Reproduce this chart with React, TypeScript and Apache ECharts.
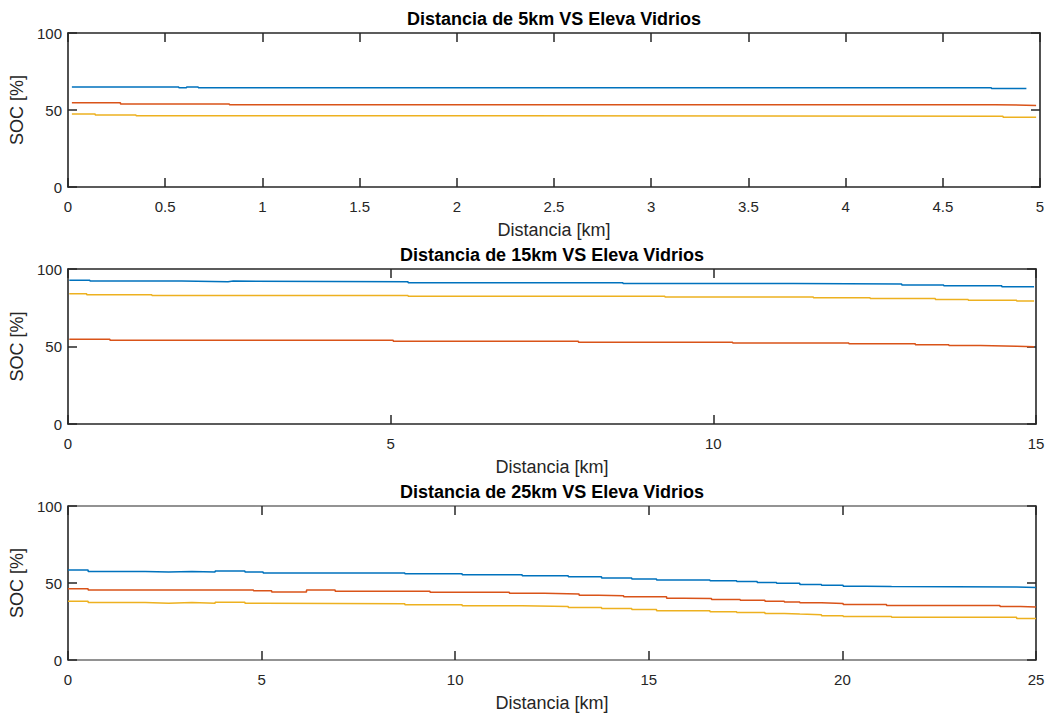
import React, { useEffect, useRef } from "react";
import * as echarts from "echarts";

// ---------- data ----------
const TITLES = [
  "Distancia de 5km VS Eleva Vidrios",
  "Distancia de 15km VS Eleva Vidrios",
  "Distancia de 25km VS Eleva Vidrios",
];
const X_MAX = [5, 15, 25];
const X_INTERVAL = [0.5, 5, 5];
const Y_TICKS = [0, 50, 100];
const X_NAME = "Distancia [km]";
const Y_NAME = "SOC [%]";

// [distance km, SOC %] breakpoints (step lines)
const blue5: [number, number][] = [[0.02, 65.0], [0.57, 64.5], [0.61, 65.0], [0.67, 64.5], [4.75, 64.0], [4.93, 64.0]];
const orange5: [number, number][] = [[0.02, 54.7], [0.27, 53.9], [0.83, 53.4], [4.77, 53.0], [4.98, 53.0]];
const yellow5: [number, number][] = [[0.02, 47.4], [0.14, 46.8], [0.35, 46.3], [1.57, 45.9], [4.81, 45.3], [4.98, 45.3]];

const blue15: [number, number][] = [[0.02, 92.8], [0.34, 92.2], [1.76, 91.8], [2.48, 92.2], [2.56, 91.8], [5.27, 91.2], [8.6, 90.7], [11.24, 90.3], [12.92, 89.7], [13.57, 89.2], [14.47, 88.5], [14.97, 88.5]];
const orange15: [number, number][] = [[0.02, 54.7], [0.65, 54.0], [5.04, 53.4], [7.91, 52.8], [10.3, 52.2], [12.1, 51.7], [13.13, 51.1], [13.65, 50.6], [14.14, 50.2], [14.7, 49.8], [14.97, 49.8]];
const yellow15: [number, number][] = [[0.02, 84.0], [0.29, 83.4], [1.3, 82.9], [5.27, 82.4], [9.25, 81.9], [11.55, 81.4], [12.43, 80.9], [13.44, 80.4], [13.95, 79.9], [14.7, 79.3], [14.97, 79.3]];

const blue25: [number, number][] = [[0, 58.4], [0.52, 57.5], [1.99, 57.1], [2.6, 57.5], [3.2, 57.1], [3.8, 57.8], [4.57, 57.1], [5.04, 56.5], [8.7, 56.0], [10.18, 55.4], [11.73, 54.7], [12.92, 54.1], [13.78, 53.3], [14.56, 52.6], [15.2, 52.0], [16.58, 51.5], [17.27, 50.9], [17.8, 50.4], [18.3, 49.8], [18.9, 49.0], [19.46, 48.5], [20.02, 47.9], [20.6, 47.7], [21.27, 47.4], [24.5, 47.0], [25, 47.0]];
const orange25: [number, number][] = [[0, 46.2], [0.52, 45.5], [4.79, 44.9], [5.26, 44.2], [6.16, 45.5], [6.9, 44.6], [9.35, 44.0], [11.4, 43.3], [12.3, 42.9], [13.2, 42.0], [13.7, 41.7], [14.35, 41.0], [15.46, 40.1], [15.9, 39.9], [16.62, 39.3], [17.36, 38.8], [18.0, 38.2], [18.5, 37.6], [18.9, 37.1], [19.46, 36.7], [20.02, 36.1], [21.14, 35.4], [24.07, 34.8], [24.6, 34.4], [25, 34.4]];
const yellow25: [number, number][] = [[0, 38.2], [0.52, 37.3], [1.99, 36.9], [2.6, 37.3], [3.2, 36.9], [3.8, 37.5], [4.57, 36.9], [5.04, 36.5], [8.7, 35.9], [10.18, 35.2], [11.73, 34.8], [12.92, 34.1], [13.78, 33.5], [14.56, 32.8], [15.2, 32.0], [16.58, 31.4], [17.27, 30.8], [18.0, 30.2], [18.5, 29.8], [18.9, 29.4], [19.46, 28.8], [20.02, 28.3], [21.27, 27.7], [24.5, 27.0], [25, 27.0]];

const SERIES_DATA = [
  [blue5, orange5, yellow5],
  [blue15, orange15, yellow15],
  [blue25, orange25, yellow25],
];
const SERIES_NAMES = ["Serie 1", "Serie 2", "Serie 3"];
const COLORS = ["#0072BD", "#D95319", "#EDB120"];

// ---------- layout ----------
const GRIDS = [
  { left: 68, top: 33, width: 972, height: 154 },
  { left: 68, top: 269, width: 968, height: 155 },
  { left: 68, top: 506, width: 968, height: 155 },
];
const FONT = "'Liberation Sans', Arial, Helvetica, sans-serif";
const AX = "#262626";

export default function App() {
  const ref = useRef<HTMLDivElement>(null);
  useEffect(() => {
    if (!ref.current) return;
    const chart = echarts.init(ref.current, undefined, { renderer: "svg" });
    const xAxis: any[] = [];
    const yAxis: any[] = [];
    const series: any[] = [];
    const title: any[] = [];
    GRIDS.forEach((g, i) => {
      const hColor = i === 2 ? "#6f6f6f" : AX;
      title.push({
        text: TITLES[i],
        left: g.left + g.width / 2,
        top: g.top - 23,
        padding: 0,
        textAlign: "center",
        textStyle: { fontFamily: FONT, fontSize: 18, fontWeight: "bold", color: "#000" },
      });
      const xBase = {
        type: "value",
        gridIndex: i,
        min: 0,
        max: X_MAX[i],
        interval: X_INTERVAL[i],
        splitLine: { show: false },
        axisTick: { inside: true, length: 9, lineStyle: { color: AX, width: 1.5 } },
      };
      xAxis.push({
        ...xBase,
        position: "bottom",
        axisLine: { show: true, onZero: false, lineStyle: { color: hColor, width: 1.6 } },
        axisLabel: { show: true, margin: 12, fontSize: 15, fontFamily: FONT, color: AX },
        name: X_NAME,
        nameLocation: "middle",
        nameGap: 34,
        nameTextStyle: { fontSize: 18, fontFamily: FONT, color: AX },
      });
      xAxis.push({
        ...xBase,
        position: "top",
        axisLine: { show: true, onZero: false, lineStyle: { color: hColor, width: 1.6 } },
        axisLabel: { show: false },
      });
      const yBase = {
        type: "value",
        gridIndex: i,
        min: Y_TICKS[0],
        max: Y_TICKS[Y_TICKS.length - 1],
        interval: Y_TICKS[1] - Y_TICKS[0],
        splitLine: { show: false },
        axisTick: { inside: true, length: 9, lineStyle: { color: AX, width: 1.5 } },
        axisLine: { show: true, onZero: false, lineStyle: { color: AX, width: 1.6 } },
      };
      yAxis.push({
        ...yBase,
        position: "left",
        axisLabel: { show: true, margin: 6, fontSize: 15, fontFamily: FONT, color: AX },
        name: Y_NAME,
        nameLocation: "middle",
        nameGap: 32,
        nameTextStyle: { fontSize: 18, fontFamily: FONT, color: AX },
      });
      yAxis.push({
        ...yBase,
        position: "right",
        axisLabel: { show: false },
      });
      SERIES_DATA[i].forEach((d, k) => {
        series.push({
          type: "line",
          name: SERIES_NAMES[k],
          xAxisIndex: i * 2,
          yAxisIndex: i * 2,
          data: d,
          step: "end",
          symbol: "none",
          lineStyle: { color: COLORS[k], width: 1.5 },
          z: 3,
        });
      });
    });
    chart.setOption({
      animation: false,
      backgroundColor: "#ffffff",
      title,
      grid: GRIDS.map((g) => ({ ...g, containLabel: false })),
      xAxis,
      yAxis,
      series,
    });
    return () => chart.dispose();
  }, []);
  return (
    <div
      ref={ref}
      style={{ position: "fixed", left: 0, top: 0, width: 1051, height: 713, background: "#fff" }}
    />
  );
}
